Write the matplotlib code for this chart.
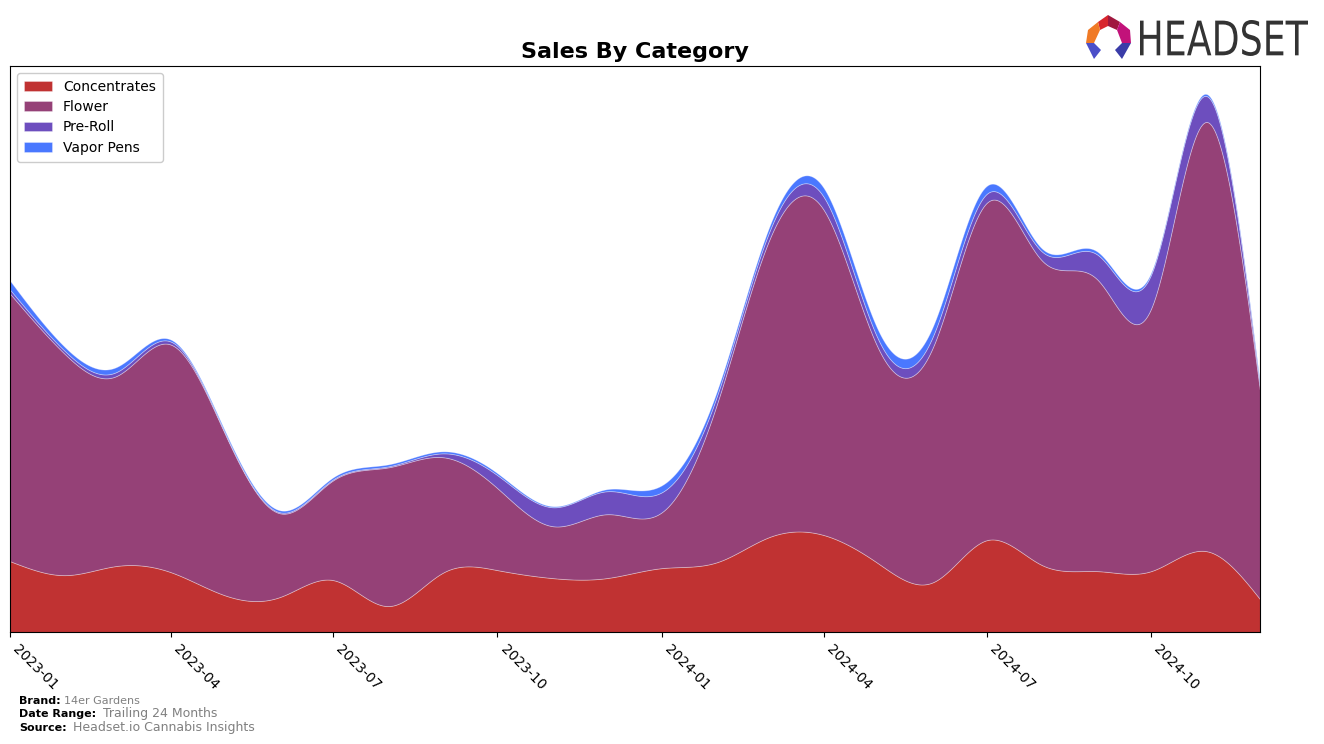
import numpy as np
import pandas as pd
import matplotlib
matplotlib.use("Agg")
import matplotlib.pyplot as plt
import matplotlib.dates as mdates
from matplotlib.patches import Polygon, PathPatch
from matplotlib.textpath import TextPath
from matplotlib.font_manager import FontProperties
from matplotlib.transforms import Affine2D

# Monthly sales by category (arbitrary units)
months = pd.date_range("2023-01-01", "2024-12-01", freq="MS")
concentrates = [71, 57, 66, 60, 37, 35, 52, 26, 60, 62, 54, 54,
                64, 70, 95, 97, 69, 50, 92, 67, 61, 61, 81, 33]
flower = [268, 221, 190, 228, 163, 84, 100, 139, 115, 82, 52, 64,
          56, 159, 297, 325, 216, 236, 338, 305, 292, 263, 430, 209]
pre_roll = [4, 3, 4, 3, 1, 1, 1, 1, 4, 13, 19, 23,
            20, 8, 8, 13, 9, 11, 9, 9, 25, 34, 26, 4]
vapor_pens = [9, 4, 5, 2, 2, 2, 2, 2, 2, 2, 1, 2,
              7, 5, 5, 9, 9, 10, 8, 3, 3, 2, 2, 3]

labels = ["Concentrates", "Flower", "Pre-Roll", "Vapor Pens"]
colors = ["#C03232", "#954177", "#6D4EBE", "#4A78FF"]


def smooth(x, y, xs):
    # natural cubic spline, only used to draw the curves smoothly
    x = np.asarray(x, float)
    y = np.asarray(y, float)
    n = len(x)
    h = np.diff(x)
    A = np.zeros((n, n))
    b = np.zeros(n)
    A[0, 0] = 1
    A[-1, -1] = 1
    for i in range(1, n - 1):
        A[i, i - 1] = h[i - 1]
        A[i, i] = 2 * (h[i - 1] + h[i])
        A[i, i + 1] = h[i]
        b[i] = 3 * ((y[i + 1] - y[i]) / h[i] - (y[i] - y[i - 1]) / h[i - 1])
    c = np.linalg.solve(A, b)
    bb = (y[1:] - y[:-1]) / h - h * (2 * c[:-1] + c[1:]) / 3
    d = (c[1:] - c[:-1]) / (3 * h)
    idx = np.clip(np.searchsorted(x, xs) - 1, 0, n - 2)
    t = xs - x[idx]
    return y[idx] + bb[idx] * t + c[idx] * t ** 2 + d[idx] * t ** 3


x = mdates.date2num(months)
xs = np.linspace(x[0], x[-1], 800)
series = [np.clip(smooth(x, s, xs), 0, None)
          for s in (concentrates, flower, pre_roll, vapor_pens)]

fig = plt.figure(figsize=(13.24, 7.44), dpi=100)
ax = fig.add_axes([0.00755, 0.1505, 0.9441, 0.7608])

ax.stackplot(xs, *series, labels=labels, colors=colors,
             edgecolor=(1, 1, 1, 0.35), linewidth=0.6)

ax.set_xlim(x[0], x[-1])
ax.set_ylim(0, 567)
ax.set_yticks([])
ax.xaxis.set_major_locator(mdates.MonthLocator(bymonth=[1, 4, 7, 10]))
ax.xaxis.set_major_formatter(mdates.DateFormatter("%Y-%m"))
plt.setp(ax.get_xticklabels(), rotation=-45, ha="left", fontsize=10)

ax.set_title("Sales By Category", fontsize=16, fontweight="bold", pad=6)
ax.legend(loc="upper left", fontsize=10, framealpha=1, handlelength=2,
          borderpad=0.5, labelspacing=0.45)

# footer
fig.text(0.0145, 0.054, "Brand:", fontsize=8, fontweight="bold")
fig.text(0.0485, 0.054, "14er Gardens", fontsize=8, color="gray")
fig.text(0.0145, 0.036, "Date Range:", fontsize=8, fontweight="bold")
fig.text(0.078, 0.036, "Trailing 24 Months", fontsize=9, color="gray")
fig.text(0.0145, 0.018, "Source:", fontsize=8, fontweight="bold")
fig.text(0.055, 0.018, "Headset.io Cannabis Insights", fontsize=9, color="gray")

# logo
W, H = 1324, 744


def fpoly(pts, color):
    pts = [(px / W, 1 - py / H) for px, py in pts]
    fig.patches.append(Polygon(pts, closed=True, transform=fig.transFigure,
                               facecolor=color, edgecolor="none"))


fpoly([(1098, 22), (1108, 15), (1108, 26), (1100, 30)], "#D8262E")
fpoly([(1108, 15), (1120, 22), (1117, 30), (1108, 26)], "#A0183F")
fpoly([(1120, 22), (1130, 30), (1131, 43), (1122, 43), (1117, 30)], "#C2127A")
fpoly([(1098, 22), (1100, 30), (1094, 43), (1086, 43), (1088, 30)], "#F07A26")
fpoly([(1086, 43), (1094, 43), (1101, 50), (1094, 59)], "#4B4FC9")
fpoly([(1131, 43), (1122, 43), (1115, 50), (1122, 59)], "#3A3CA8")

tp = TextPath((0, 0), "HEADSET", size=50, prop=FontProperties(family="DejaVu Sans"))
ext = tp.get_extents()
sx = 168 / ext.width
sy = 36 / ext.height
tr = Affine2D().translate(-ext.x0, -ext.y0).scale(sx, sy).translate(1140, H - 56)
fig.patches.append(PathPatch(tr.transform_path(tp), facecolor="#333333",
                             edgecolor="none", transform=None))

fig.savefig("out.png", dpi=100)
